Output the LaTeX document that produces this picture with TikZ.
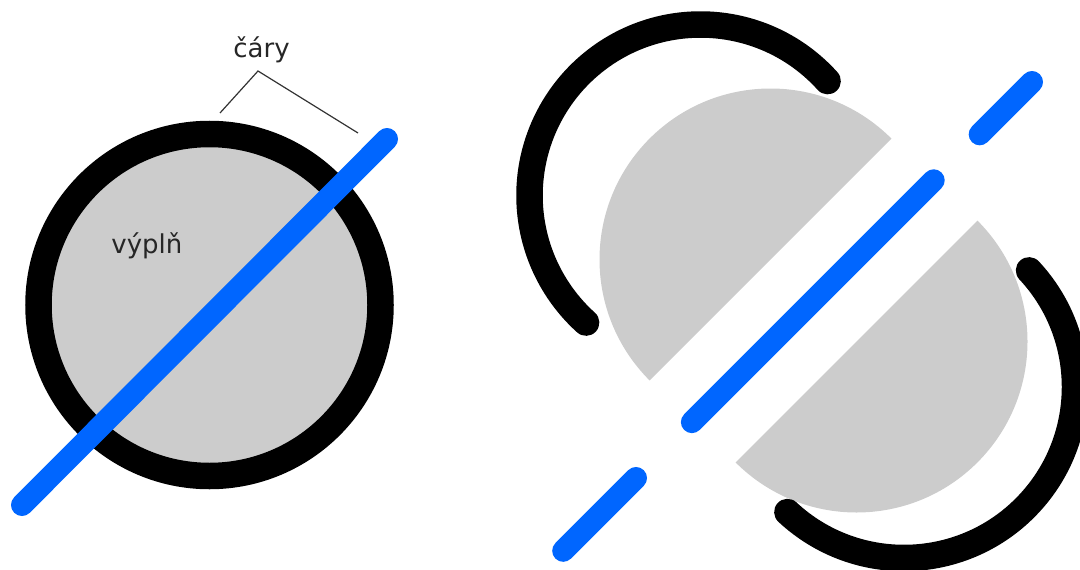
\documentclass[tikz,border=0pt]{standalone}
\usepackage{fontspec}
\setmainfont{DejaVu Sans}
\usetikzlibrary{positioning}
\definecolor{fillgrey}{HTML}{CCCCCC}
\definecolor{strokeblue}{HTML}{0066FF}

\begin{document}
\begin{tikzpicture}[x=0.5pt,y=0.5pt,every node/.style={font=\fontsize{13}{15}\selectfont,inner sep=0pt,text=black!85},
  shape fill/.style={fill=fillgrey},
  outline/.style={draw=black,line width=13.25pt,line cap=round},
  bluestroke/.style={draw=strokeblue,line width=11pt,line cap=round},
  pointer/.style={draw=black!80,line width=0.6pt}]
\clip (0,0) rectangle (1080,569);
% whole shape
\coordinate (c) at (209.5,264);
\coordinate (l0) at (22,64);
\coordinate (l1) at (387,430);
\fill[shape fill] (c) circle (171);
\draw[outline] (c) circle (171);
\draw[bluestroke] (l0)--(l1);
\node[anchor=base west] (fill lbl) at (111,316) {výplň};
\node[anchor=base west] (lines lbl) at (233,511) {čáry};
\coordinate (apex) at (258,498);
\coordinate (ring tip) at (220,456);
\coordinate (line tip) at (358,436);
\draw[pointer] (ring tip)--(apex)--(line tip);
% taken apart
\coordinate (o) at (813.5,268.5);
\coordinate (m1) at (770.5,309.5);
\coordinate (m2) at (856.5,227.5);
\coordinate (c1) at (700.5,373.5);
\coordinate (c2) at (904,182);
\fill[shape fill] (m1) ++(45:171) arc (45:225:171) -- cycle;
\fill[shape fill] (m2) ++(-135:171) arc (-135:45:171) -- cycle;
\draw[outline] (c1) ++(42:171) arc (42:228:171);
\draw[outline] (c2) ++(-133:171) arc (-133:43:171);
\draw[bluestroke] ([shift={(45:-354)}]o)--([shift={(45:-251)}]o);
\draw[bluestroke] ([shift={(45:-172)}]o)--([shift={(45:170)}]o);
\draw[bluestroke] ([shift={(45:235)}]o)--([shift={(45:309)}]o);
\end{tikzpicture}
\end{document}
